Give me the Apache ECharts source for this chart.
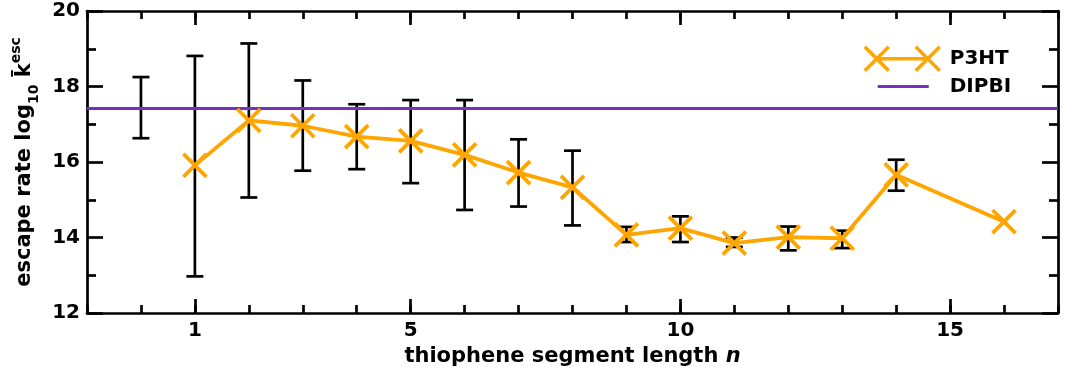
<!DOCTYPE html>
<html>
<head>
<meta charset="utf-8">
<script src="https://cdn.jsdelivr.net/npm/echarts@6/dist/echarts.min.js"></script>
<style>
html,body{margin:0;padding:0;background:#fff;}
#chart{width:1066px;height:376px;}
</style>
</head>
<body>
<div id="chart"></div>
<script>
// ---- data ----
const nValues = [1, 2, 3, 4, 5, 6, 7, 8, 9, 10, 11, 12, 13, 14, 16];
const p3ht    = [15.91, 17.10, 16.96, 16.67, 16.56, 16.19, 15.72, 15.33, 14.07, 14.25, 13.85, 14.01, 13.98, 15.66, 14.42];
const errN    = [0, 1, 2, 3, 4, 5, 6, 7, 8, 9, 10, 11, 12, 13, 14];
const errLow  = [16.63, 12.97, 15.06, 15.77, 15.81, 15.44, 14.73, 14.82, 14.32, 13.88, 13.88, 13.75, 13.66, 13.72, 15.24];
const errHigh = [18.25, 18.81, 19.14, 18.16, 17.53, 17.64, 17.64, 16.60, 16.30, 14.28, 14.56, 14.00, 14.29, 14.18, 16.06];
const dipbi = 17.42;
const xMin = -1, xMax = 17;
const yMin = 12, yMax = 20;
const xLabelTicks = [1, 5, 10, 15];

const FONT = 'DejaVu Sans';
const ORANGE = '#FFA500';
const PURPLE = '#7232BD';
const AXW = 2.7;

const chart = echarts.init(document.getElementById('chart'));

const p3htData = nValues.map((n, i) => [n, p3ht[i]]);
const errData = errN.map((n, i) => [n, errLow[i], errHigh[i]]);
const dipbiData = [[xMin, dipbi], [xMax, dipbi]];

function xAx(pos, major, withLabel) {
  const a = {
    type: 'value', position: pos, min: xMin, max: xMax, interval: 1,
    splitLine: {show: false},
    axisLine: {show: !major, onZero: false, lineStyle: {color: '#000', width: AXW}},
    axisTick: {show: true, inside: true, length: major ? 14 : 8, lineStyle: {color: '#000', width: AXW}},
    axisLabel: {show: false}
  };
  if (major) {
    a.axisTick.customValues = xLabelTicks;
    a.axisLabel = withLabel ? {
      show: true, customValues: xLabelTicks, margin: 8,
      fontFamily: FONT, fontWeight: 'bold', fontSize: 20, color: '#000'
    } : {show: false};
  }
  if (withLabel) {
    a.name = '{a|thiophene segment length }{i|n}';
    a.nameLocation = 'middle';
    a.nameGap = 29;
    a.nameTextStyle = {
      rich: {
        a: {fontFamily: FONT, fontWeight: 'bold', fontSize: 21, color: '#000'},
        i: {fontFamily: FONT, fontWeight: 'bold', fontStyle: 'italic', fontSize: 21, color: '#000'}
      }
    };
  }
  return a;
}

function yAx(pos, withLabel) {
  const a = {
    type: 'value', position: pos, min: yMin, max: yMax, interval: 2,
    splitLine: {show: false},
    axisLine: {show: true, onZero: false, lineStyle: {color: '#000', width: AXW}},
    axisTick: {show: true, inside: true, length: 16, lineStyle: {color: '#000', width: AXW}},
    minorTick: {show: true, splitNumber: 2, length: 9, lineStyle: {color: '#000', width: AXW}},
    minorSplitLine: {show: false},
    axisLabel: withLabel ? {show: true, margin: 7, fontFamily: FONT, fontWeight: 'bold', fontSize: 20, color: '#000'} : {show: false}
  };
  if (withLabel) {
    a.name = '{t|escape rate log}{sub|10}{t| }{k|k\u0304}{sup|esc}';
    a.nameLocation = 'middle';
    a.nameRotate = 90;
    a.nameGap = 46;
    a.nameTextStyle = {
      rich: {
        t: {fontFamily: FONT, fontWeight: 'bold', fontSize: 21, color: '#000', lineHeight: 32},
        k: {fontFamily: FONT, fontWeight: 'bold', fontSize: 21, color: '#000', lineHeight: 32},
        sub: {fontFamily: FONT, fontWeight: 'bold', fontSize: 14, color: '#000', lineHeight: 16, verticalAlign: 'bottom'},
        sup: {fontFamily: FONT, fontWeight: 'bold', fontSize: 14, color: '#000', lineHeight: 12, verticalAlign: 'top'}
      }
    };
  }
  return a;
}

const option = {
  animation: false,
  backgroundColor: '#fff',
  grid: {left: 87, right: 8, top: 11, bottom: 63, containLabel: false},
  xAxis: [
    xAx('bottom', false, false),
    xAx('bottom', true, true),
    xAx('top', false, false),
    xAx('top', true, false)
  ],
  yAxis: [
    yAx('left', true),
    yAx('right', false)
  ],
  legend: {
    orient: 'vertical', left: 863, top: 45, padding: 0, itemGap: 2,
    itemWidth: 75, itemHeight: 24,
    textStyle: {fontFamily: FONT, fontWeight: 'bold', fontSize: 20, color: '#000', padding: [0, 0, 0, 5]},
    data: [
      {name: 'P3HT',
       icon: 'path://M0,0L24,24M24,0L0,24M12,12L63,12M51,0L75,24M75,0L51,24',
       itemStyle: {color: ORANGE, borderColor: ORANGE, borderWidth: 3.5}},
      {name: 'DIPBI',
       icon: 'path://M13,10.5L64,10.5L64,13.5L13,13.5Z M0,0L0.01,0 M75,24L74.99,24',
       itemStyle: {color: PURPLE, borderWidth: 0}}
    ]
  },
  series: [
    {
      name: 'err', type: 'custom', xAxisIndex: 0, yAxisIndex: 0, z: 1,
      data: errData,
      encode: {x: 0, y: [1, 2]},
      renderItem: function (params, api) {
        const x = api.value(0), lo = api.value(1), hi = api.value(2);
        const pLo = api.coord([x, lo]);
        const pHi = api.coord([x, hi]);
        const hw = 8.5;
        const st = {stroke: '#000', lineWidth: 2.7};
        return {
          type: 'group',
          children: [
            {type: 'line', shape: {x1: pLo[0], y1: pLo[1], x2: pHi[0], y2: pHi[1]}, style: st},
            {type: 'line', shape: {x1: pHi[0] - hw, y1: pHi[1], x2: pHi[0] + hw, y2: pHi[1]}, style: st},
            {type: 'line', shape: {x1: pLo[0] - hw, y1: pLo[1], x2: pLo[0] + hw, y2: pLo[1]}, style: st}
          ]
        };
      }
    },
    {
      name: 'DIPBI', type: 'line', xAxisIndex: 0, yAxisIndex: 0, z: 2,
      data: dipbiData, symbol: 'none',
      lineStyle: {color: PURPLE, width: 3},
      itemStyle: {color: PURPLE}
    },
    {
      name: 'P3HT', type: 'line', xAxisIndex: 0, yAxisIndex: 0, z: 3,
      data: p3htData,
      symbol: 'path://M0,0L10,10M10,0L0,10', symbolSize: 23,
      lineStyle: {color: ORANGE, width: 3.8},
      itemStyle: {color: ORANGE, borderColor: ORANGE, borderWidth: 3.8}
    }
  ]
};
chart.setOption(option);
</script>
</body>
</html>
